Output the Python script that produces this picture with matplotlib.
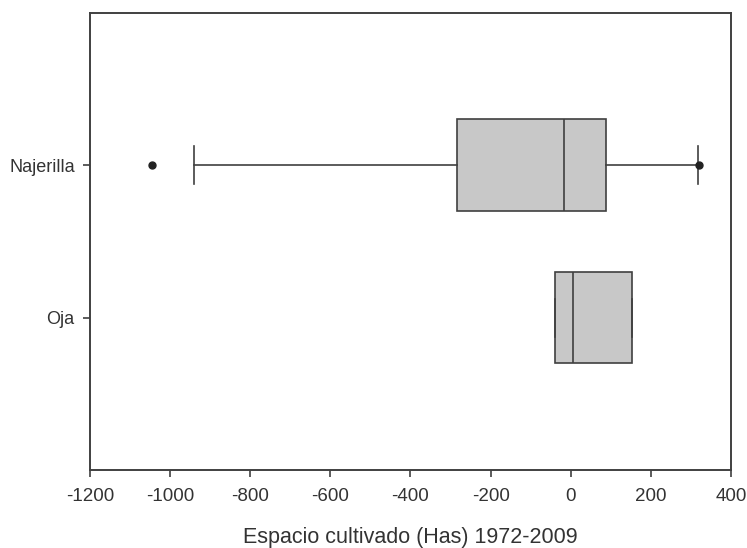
import matplotlib
matplotlib.use("Agg")
import matplotlib.pyplot as plt

plt.rcParams['font.family'] = ['Liberation Sans', 'DejaVu Sans']
plt.rcParams['axes.unicode_minus'] = False

# box statistics (Has, 1972-2009)
rivers = ["Oja", "Najerilla"]
q1 = [-40, -284]
med = [5, -16]
q3 = [153, 88]
whislo = [-40, -941]
whishi = [153, 319]
fliers = [[], [-1045, 321]]

stats = []
for i in range(len(rivers)):
    stats.append(dict(label=rivers[i], q1=q1[i], med=med[i], q3=q3[i],
                      whislo=whislo[i], whishi=whishi[i], fliers=fliers[i]))

fig = plt.figure(figsize=(7.47, 5.48), dpi=100)
ax = fig.add_axes([0.1205, 0.142, 0.858, 0.835])

edge = '#404040'
ax.bxp(stats, positions=[1, 2], vert=False, widths=0.6, patch_artist=True,
       showcaps=True,
       boxprops=dict(facecolor='#c8c8c8', edgecolor=edge, linewidth=1.2),
       medianprops=dict(color=edge, linewidth=1.2),
       whiskerprops=dict(color=edge, linewidth=1.2),
       capprops=dict(color=edge, linewidth=1.2),
       capwidths=0.25,
       flierprops=dict(marker='o', markersize=5, markerfacecolor='#222222',
                       markeredgecolor='#222222'))

ax.set_xlim(-1200, 400)
ax.set_ylim(0, 3)
ax.set_xticks(range(-1200, 401, 200))
ax.set_yticks([1, 2])
ax.set_yticklabels(rivers)
ax.tick_params(axis='both', direction='out', length=5, width=1.2,
               color='#404040', labelcolor='#333333', labelsize=13)
ax.tick_params(axis='x', pad=8, labelsize=13.5)
ax.tick_params(axis='y', pad=6)
for s in ax.spines.values():
    s.set_color('#404040')
    s.set_linewidth(1.4)

ax.set_xlabel("Espacio cultivado (Has) 1972-2009", fontsize=15.5,
              color='#333333', labelpad=16)

fig.savefig("out.png", dpi=100)
